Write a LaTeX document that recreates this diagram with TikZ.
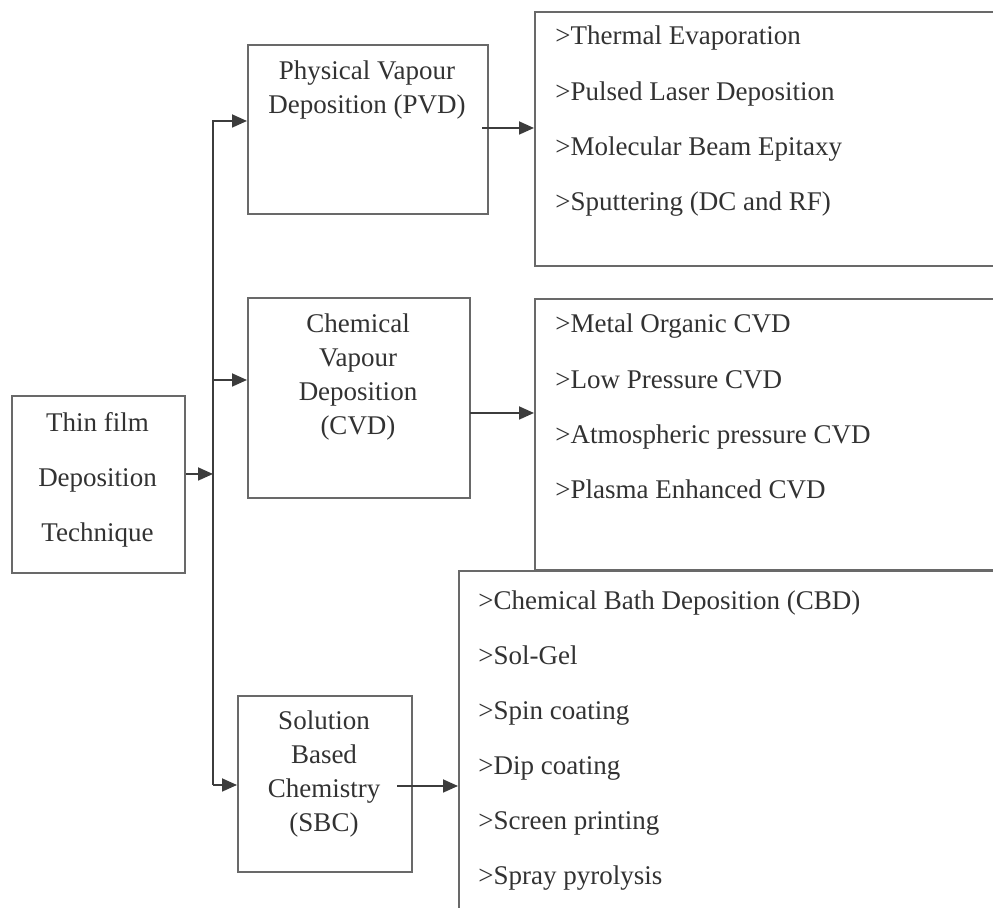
\documentclass[tikz,border=0pt]{standalone}
\usepackage{fontspec}
\setmainfont{Liberation Serif}
\usetikzlibrary{arrows.meta, positioning}
\definecolor{BoxGray}{RGB}{105,105,105}
\definecolor{LineGray}{RGB}{60,60,60}
\definecolor{TextGray}{RGB}{50,50,50}
\tikzset{
  box/.style={draw=BoxGray, line width=1pt, rectangle, inner sep=0pt, anchor=north west},
  title/.style={anchor=base, inner sep=0pt, text=TextGray, font=\fontsize{13.5}{16}\selectfont},
  item/.style={title, anchor=base west},
  link/.style={draw=LineGray, line width=0.9pt},
  arrow/.style={link, -{Triangle[length=7.5pt, width=6.5pt]}},
}

\begin{document}
\begin{tikzpicture}[x=0.5pt, y={(0pt,-0.5pt)}]
    \useasboundingbox (0,0) rectangle (993,908);
    \clip (0,0) rectangle (993,908);

    % Root box
    \node[box, minimum width=86.5pt, minimum height=88.5pt] (main) at (11,395) {};
    \foreach \ln [count=\i from 0] in {Thin film, Deposition, Technique}
        \node[title] (main\i) at (97.5, 432+55*\i) {\ln};

    % Three method boxes
    \node[box, minimum width=120pt, minimum height=84.5pt] (pvd) at (247,44) {};
    \foreach \ln [count=\i from 0] in {Physical Vapour, Deposition (PVD)}
        \node[title] (pvd\i) at (367, 80+33.5*\i) {\ln};

    \node[box, minimum width=111pt, minimum height=100pt] (cvd) at (247,297) {};
    \foreach \ln [count=\i from 0] in {Chemical, Vapour, Deposition, (CVD)}
        \node[title] (cvd\i) at (358, 333+33.7*\i) {\ln};

    \node[box, minimum width=87pt, minimum height=88pt] (sbc) at (237,695) {};
    \foreach \ln [count=\i from 0] in {Solution, Based, Chemistry, (SBC)}
        \node[title] (sbc\i) at (324, 730+33.7*\i) {\ln};

    % Lists of techniques (cut by the right and bottom edges)
    \node[box, minimum width=243pt, minimum height=127pt] (pvdlist) at (534,11) {};
    \foreach \ln [count=\i from 0] in {Thermal Evaporation, Pulsed Laser Deposition,
                                       Molecular Beam Epitaxy, Sputtering (DC and RF)}
        \node[item] (pvdlist\i) at (555, 45+55.3*\i) {>\ln};

    \node[box, minimum width=243pt, minimum height=135.5pt] (cvdlist) at (534,298) {};
    \foreach \ln [count=\i from 0] in {Metal Organic CVD, Low Pressure CVD,
                                       Atmospheric pressure CVD, Plasma Enhanced CVD}
        \node[item] (cvdlist\i) at (555, 333+55.3*\i) {>\ln};

    \node[box, minimum width=281pt, minimum height=200pt] (sbclist) at (458,570) {};
    \foreach \ln [count=\i from 0] in {Chemical Bath Deposition (CBD), Sol-Gel, Spin coating,
                                       Dip coating, Screen printing, Spray pyrolysis}
        \node[item] (sbclist\i) at (478, 610+55*\i) {>\ln};

    % Branching connectors
    \coordinate (split) at (213,474);
    \coordinate (trunktop) at (213,121);
    \coordinate (trunkmid) at (213,380);
    \coordinate (trunkbot) at (213,785);
    \draw[arrow] (main.east |- split) -- (split);
    \draw[arrow] (trunkbot) -- (trunktop) -- (pvd.west |- trunktop);
    \draw[arrow] (trunkmid) -- (cvd.west |- trunkmid);
    \draw[arrow] (trunkbot) -- (sbc.west |- trunkbot);

    % Method to list connectors
    \coordinate (pvdout) at (482,128);
    \coordinate (cvdout) at (470,413);
    \coordinate (sbcout) at (397,786);
    \draw[arrow] (pvdout) -- (pvdlist.west |- pvdout);
    \draw[arrow] (cvdout) -- (cvdlist.west |- cvdout);
    \draw[arrow] (sbcout) -- (sbclist.west |- sbcout);
\end{tikzpicture}
\end{document}
